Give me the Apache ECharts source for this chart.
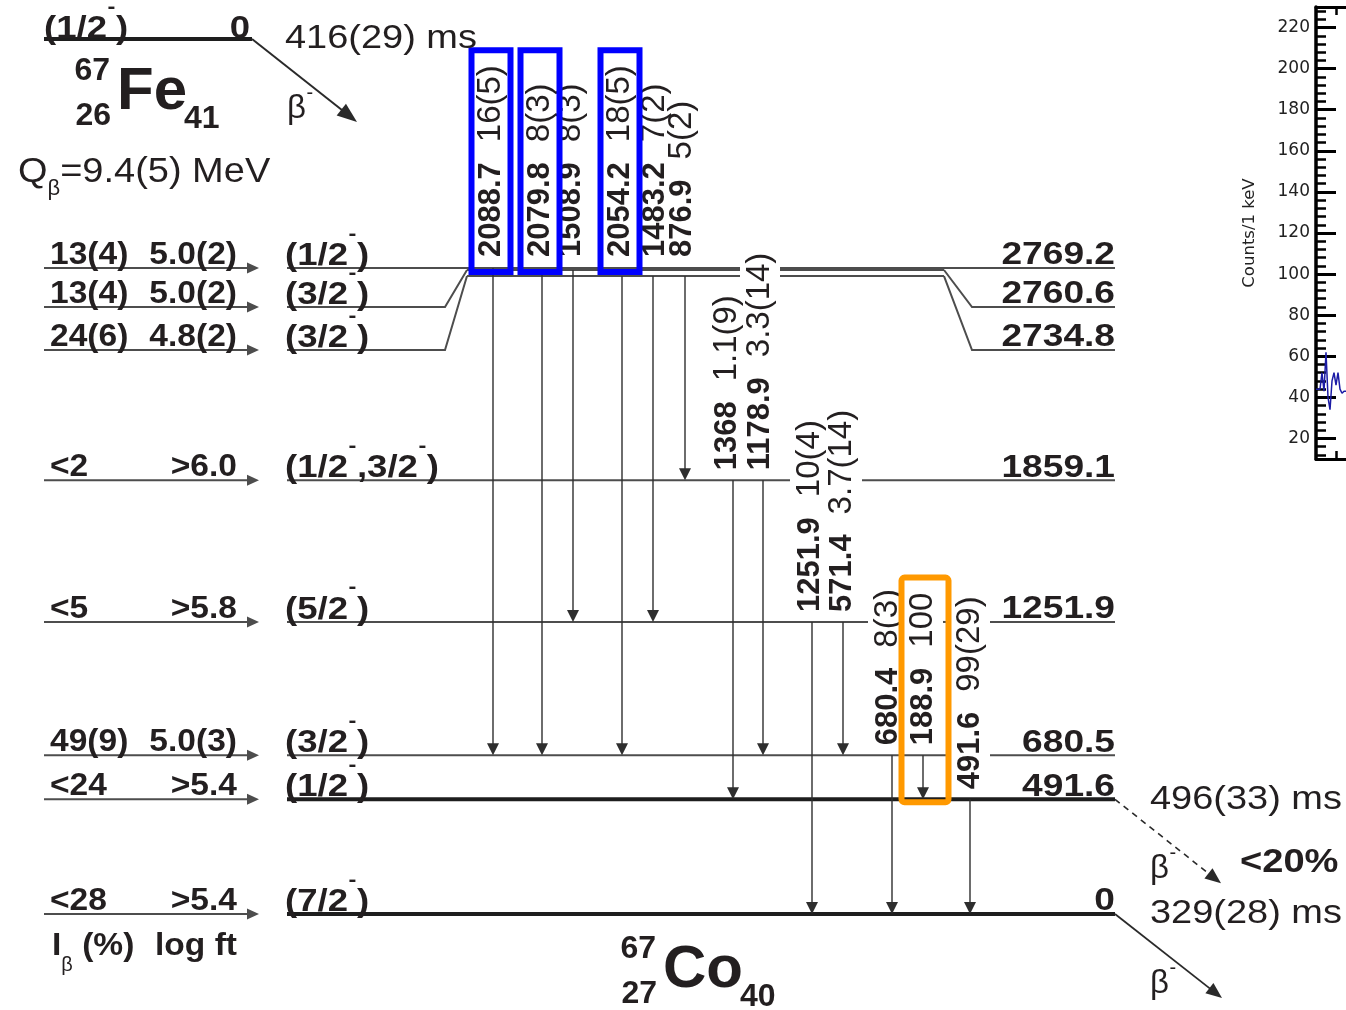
<!DOCTYPE html>
<html>
<head>
<meta charset="utf-8">
<script src="https://cdn.jsdelivr.net/npm/echarts@6/dist/echarts.min.js"></script>
<style>html,body{margin:0;padding:0;background:#fff}#c{width:1346px;height:1010px}</style>
</head>
<body>
<div id="c"></div>
<script>
// ---------------- DATA ----------------
const levelEnergies = [2769.2, 2760.6, 2734.8, 1859.1, 1251.9, 680.5, 491.6, 0];
const levelLabels   = ['2769.2', '2760.6', '2734.8', '1859.1', '1251.9', '680.5', '491.6', '0'];
const levelSpins    = ['(1/2⁻)', '(3/2⁻)', '(3/2⁻)', '(1/2⁻,3/2⁻)', '(5/2⁻)', '(3/2⁻)', '(1/2⁻)', '(7/2⁻)'];
const betaFeedings  = ['13(4)', '13(4)', '24(6)', '<2', '<5', '49(9)', '<24', '<28'];
const logFtValues   = ['5.0(2)', '5.0(2)', '4.8(2)', '>6.0', '>5.8', '5.0(3)', '>5.4', '>5.4'];

const gammaEnergies    = ['2088.7', '2079.8', '1508.9', '2054.2', '1483.2', '876.9', '1368', '1178.9', '1251.9', '571.4', '680.4', '188.9', '491.6'];
const gammaIntensities = ['16(5)', '8(3)', '8(3)', '18(5)', '7(2)', '5(2)', '1.1(9)', '3.3(14)', '10(4)', '3.7(14)', '8(3)', '100', '99(29)'];
const gammaFrom = [2769.2, 2760.6, 2760.6, 2734.8, 2734.8, 2734.8, 1859.1, 1859.1, 1251.9, 1251.9, 680.5, 680.5, 491.6];
const gammaTo   = [680.5, 680.5, 1251.9, 680.5, 1251.9, 1859.1, 491.6, 680.5, 0, 680.5, 0, 491.6, 0];

const highlightBlue   = ['2088.7', '2079.8', '2054.2'];
const highlightOrange = ['188.9'];

const parentSpin = '(1/2⁻)';
const parentLevel = '0';
const parentHalfLife = '416(29) ms';
const decayMode = 'β⁻';
const qValue = '9.4(5) MeV';
const parentNuclide = ['67', '26', 'Fe', '41'];     // A, Z, symbol, N
const daughterNuclide = ['67', '27', 'Co', '40'];
const isomerHalfLife = '496(33) ms';
const isomerBranch = '<20%';
const groundHalfLife = '329(28) ms';
const feedingHeader = ['I', 'β', ' (%)', 'log ft'];

// inset spectrum (counts per 1 keV bin)
const spectrumBinEdges = [170, 171, 172, 173, 174, 175, 176, 177, 178, 179, 180, 181, 182, 183, 184, 185];
const spectrumCounts   = [44, 44, 44, 52, 43, 62, 40, 34, 48, 52, 46, 52, 44, 42, 43];
const countTicks = [20, 40, 60, 80, 100, 120, 140, 160, 180, 200, 220];
const energyTicks = [180];

// ---------------- LAYOUT / STYLE ----------------
const L = {
  betaStart: 44, betaEnd: 259, ibX: 50, logftX: 237, spinX: 285,
  levelStart: 287, levelEnd: 1115, bendL0: 445, bendL1: 467, bendR0: 944, bendR1: 972
};
const levelDisplayShift = [0, 37, 74, 0, 0, 0, 0, 0];   // px shift of the side parts
const levelThick = [false, false, false, false, false, false, true, true];
const gammaX      = [493, 542, 573, 622, 653, 685, 733, 763, 812, 843, 892, 923, 970];
const gammaLabelX = [491, 540, 571, 620, 655, 682, 727, 760, 810, 842, 888, 923, 970];

const INK = '#231f20', LINE = '#4d4d4d', DARK = '#1e1e1e';
const FF = '"Liberation Sans", Arial, Helvetica, sans-serif';
const f = (s, b) => (b ? 'bold ' : '') + s + 'px ' + FF;
const F_SPIN = f(31, true), SX_SPIN = 1.18;
const F_LEFT = f(30.5, true), SX_LEFT = 1.1;
const F_EN = f(32, true), SX_EN = 1.16;
const F_HL = f(33, false), SX_HL = 1.15;
const F_GE = f(31, true), F_GI = f(33, false), GAP = 20;
const F_NS = f(32, true), F_NB = f(60, true);
const F_Q = f(35, false), SX_Q = 1.085;
const F_SUPB = f(20, true), F_SUPR = f(20, false), F_SUB = f(22, false);
const F_BETA = f(33, false);
const F_BR = f(34, true), SX_BR = 1.12;

const mctx = document.createElement('canvas').getContext('2d');
function tw(t, font) { mctx.font = font; return mctx.measureText(t).width; }

function textEl(x, y, text, font, align, sx, fill) {
  const a = align || 'left', c = fill || INK;
  return { type: 'text', x: x, y: y, scaleX: sx || 1, silent: true,
    style: { text: text, font: font, fill: c, textFill: c, align: a, textAlign: a,
             verticalAlign: 'middle', textVerticalAlign: 'middle' } };
}
function seg(x1, y1, x2, y2, w, color, dash) {
  return { type: 'line', silent: true, shape: { x1: x1, y1: y1, x2: x2, y2: y2 },
    style: { stroke: color, lineWidth: w, lineDash: dash || null, fill: 'none' } };
}
function poly(points, w, color) {
  return { type: 'polyline', silent: true, shape: { points: points },
    style: { stroke: color, lineWidth: w, fill: 'none' } };
}
function arrow(x1, y1, tx, ty, len, half, w, color, dash, out) {
  const dx = tx - x1, dy = ty - y1, D = Math.hypot(dx, dy), ux = dx / D, uy = dy / D;
  const bx = tx - ux * len, by = ty - uy * len;
  out.push(seg(x1, y1, bx + ux * 2, by + uy * 2, w, color, dash));
  out.push({ type: 'polygon', silent: true,
    shape: { points: [[tx, ty], [bx - uy * half, by + ux * half], [bx + uy * half, by - ux * half]] },
    style: { fill: color } });
}
function hGaps(x1, x2, y, gaps, w, color, out) {
  let cur = x1;
  gaps.filter(g => g[1] > x1 && g[0] < x2).sort((a, b) => a[0] - b[0]).forEach(g => {
    if (g[0] > cur) out.push(seg(cur, y, g[0], y, w, color));
    cur = Math.max(cur, g[1]);
  });
  if (cur < x2) out.push(seg(cur, y, x2, y, w, color));
}
// text with superscript minus (⁻)
function supText(x, y, s, font, sx, supFont, supDy, out) {
  const parts = s.split('⁻');
  let cx = x;
  parts.forEach((p, k) => {
    if (p) { out.push(textEl(cx, y, p, font, 'left', sx)); cx += tw(p, font) * sx; }
    if (k < parts.length - 1) {
      out.push(textEl(cx + 0.5, y + supDy, '-', supFont, 'left', sx));
      cx += tw('-', supFont) * sx + 1;
    }
  });
  return cx;
}
function nuclide(x, y, nuc, out) {
  // y = centre of the element symbol
  out.push(textEl(x + 38, y - 21, nuc[0], F_NS, 'right', 1));
  out.push(textEl(x + 39, y + 24, nuc[1], F_NS, 'right', 1));
  out.push(textEl(x + 45, y, nuc[2], F_NB, 'left', 1));
  out.push(textEl(x + 45 + tw(nuc[2], F_NB) - 3, y + 27, nuc[3], F_NS, 'left', 1));
}

function renderItem(params, api) {
  const X = v => api.coord([v, 0])[0];
  const Y = e => api.coord([0, e])[1];
  const out = [];
  const topLevelY = Y(levelEnergies[0]);

  // gamma label geometry
  const labels = gammaEnergies.map((g, i) => {
    const fy = Y(gammaFrom[i]);
    const bottom = gammaFrom[i] > 2700 ? topLevelY - 11 : fy - 10;
    const wE = tw(g, F_GE), wI = tw(gammaIntensities[i], F_GI);
    return { cx: X(gammaLabelX[i]), bottom: bottom, top: bottom - wE - GAP - wI, wE: wE };
  });
  function gapsFor(E, y) {
    const g = [];
    labels.forEach((lb, j) => {
      if (gammaFrom[j] !== E && y > lb.top && y < lb.bottom) g.push([lb.cx - 20, lb.cx + 20]);
    });
    return g;
  }

  // levels
  levelEnergies.forEach((E, i) => {
    const yT = Y(E), yD = yT + levelDisplayShift[i];
    const w = levelThick[i] ? 4 : 2, col = levelThick[i] ? DARK : LINE;
    const gaps = gapsFor(E, yT);
    if (levelDisplayShift[i] === 0) {
      hGaps(X(L.levelStart), X(L.levelEnd), yT, gaps, w, col, out);
    } else {
      out.push(poly([[X(L.levelStart), yD], [X(L.bendL0), yD], [X(L.bendL1), yT]], w, col));
      hGaps(X(L.bendL1), X(L.bendR0), yT, gaps, w, col, out);
      out.push(poly([[X(L.bendR0), yT], [X(L.bendR1), yD], [X(L.levelEnd), yD]], w, col));
    }
    arrow(X(L.betaStart), yD, X(L.betaEnd), yD, 12, 5.5, 2, LINE, null, out);
    out.push(textEl(X(L.ibX), yD - 12.5, betaFeedings[i], F_LEFT, 'left', SX_LEFT));
    out.push(textEl(X(L.logftX), yD - 12.5, logFtValues[i], F_LEFT, 'right', SX_LEFT));
    supText(X(L.spinX), yD - 12, levelSpins[i], F_SPIN, SX_SPIN, F_SUPB, -22, out);
    out.push(textEl(X(L.levelEnd), yD - 12.5, levelLabels[i], F_EN, 'right', SX_EN));
  });

  // gamma transitions
  gammaEnergies.forEach((g, i) => {
    const x = X(gammaX[i]), y1 = Y(gammaFrom[i]), y2 = Y(gammaTo[i]);
    arrow(x, y1, x, y2, 12, 6, 1.4, '#2e2e2e', null, out);
    const lb = labels[i];
    out.push({ type: 'group', x: lb.cx, y: lb.bottom, rotation: Math.PI / 2, children: [
      textEl(0, 0, g, F_GE, 'left', 1),
      textEl(lb.wE + GAP, 0, gammaIntensities[i], F_GI, 'left', 1)
    ] });
  });

  // highlight boxes
  const blueIdx = highlightBlue.map(g => gammaEnergies.indexOf(g));
  const blueTop = Math.min.apply(null, blueIdx.map(i => labels[i].top)) - 15;
  const blueBottom = topLevelY + 4;
  blueIdx.forEach(i => {
    const cx = labels[i].cx;
    out.push({ type: 'rect', silent: true, shape: { x: cx - 19.5, y: blueTop, width: 39, height: blueBottom - blueTop },
      style: { fill: 'none', stroke: '#0000ff', lineWidth: 6 } });
  });
  highlightOrange.map(g => gammaEnergies.indexOf(g)).forEach(i => {
    const cx = labels[i].cx + 2, top = labels[i].top - 15, bot = Y(gammaTo[i]) + 3;
    out.push({ type: 'rect', silent: true, shape: { x: cx - 23.5, y: top, width: 47, height: bot - top, r: 3 },
      style: { fill: 'none', stroke: '#ff9900', lineWidth: 6 } });
  });

  // parent level (annotation, not on the daughter energy scale)
  const PY = 39;
  out.push(seg(44, PY, 252, PY, 4, DARK));
  supText(44, PY - 10, parentSpin, F_SPIN, SX_SPIN, F_SUPB, -22, out);
  out.push(textEl(250, PY - 10, parentLevel, F_SPIN, 'right', SX_SPIN));
  arrow(252, PY, 357, PY + 83, 20, 7.5, 2, '#2a2a2a', null, out);
  out.push(textEl(285, PY, parentHalfLife, F_HL, 'left', SX_HL));
  supText(287, PY + 70, decayMode, F_BETA, 1, F_SUPR, -16, out);
  nuclide(72, PY + 53, parentNuclide, out);
  // Q value
  out.push(textEl(18, 172, 'Q', F_Q, 'left', SX_Q));
  const qx = 18 + tw('Q', F_Q) * SX_Q;
  out.push(textEl(qx, 189, 'β', F_SUB, 'left', 1));
  out.push(textEl(qx + tw('β', F_SUB), 172, '=' + qValue, F_Q, 'left', SX_Q));

  // feeding header
  const yG = Y(0);
  out.push(textEl(52, yG + 33, feedingHeader[0], F_LEFT, 'left', SX_LEFT));
  const ix = 52 + tw('I', F_LEFT) * SX_LEFT;
  out.push(textEl(ix, yG + 51, feedingHeader[1], F_SUPR, 'left', 1));
  out.push(textEl(ix + tw('β', F_SUPR), yG + 33, feedingHeader[2], F_LEFT, 'left', SX_LEFT));
  out.push(textEl(155, yG + 33, feedingHeader[3], F_LEFT, 'left', SX_LEFT));

  // daughter decays
  const yI = Y(491.6);
  arrow(X(L.levelEnd), yI, X(L.levelEnd) + 106, yI + 84, 16, 6.5, 1.6, '#2a2a2a', [6, 5], out);
  out.push(textEl(1150, yI + 1, isomerHalfLife, F_HL, 'left', SX_HL));
  supText(1150, yI + 70, decayMode, F_BETA, 1, F_SUPR, -16, out);
  out.push(textEl(1240, yI + 63, isomerBranch, F_BR, 'left', SX_BR));
  out.push(textEl(1150, yG, groundHalfLife, F_HL, 'left', SX_HL));
  arrow(X(L.levelEnd), yG, X(L.levelEnd) + 107, yG + 84, 16, 6.5, 1.8, '#2a2a2a', null, out);
  supText(1150, yG + 70, decayMode, F_BETA, 1, F_SUPR, -16, out);
  nuclide(618, yG + 56, daughterNuclide, out);

  return { type: 'group', children: out };
}

const minorTicks = [];
for (let v = 12; v <= 228; v += 4) if (v % 20 !== 0) minorTicks.push(v);

const chart = echarts.init(document.getElementById('c'), null, { renderer: 'canvas' });
const insetAxisX = pos => ({
  gridIndex: 1, type: 'value', min: 170, max: 185, position: pos,
  axisLine: { show: true, onZero: false, lineStyle: { color: '#000', width: 3 } },
  axisTick: { show: true, inside: true, length: 8, customValues: energyTicks, lineStyle: { color: '#000', width: 2.5 } },
  axisLabel: { show: false }, splitLine: { show: false }
});
chart.setOption({
  backgroundColor: '#fff',
  animation: false,
  grid: [
    { left: 0, right: 0, top: 0, bottom: 0, outerBoundsMode: 'none' },
    { left: 1316, right: 0, top: 7, bottom: 551, outerBoundsMode: 'none' }
  ],
  xAxis: [
    { gridIndex: 0, type: 'value', min: 0, max: 1346, show: false },
    insetAxisX('bottom'),
    insetAxisX('top')
  ],
  yAxis: [
    { gridIndex: 0, type: 'value', min: -411.52, max: 3918.04, show: false },
    { gridIndex: 1, type: 'value', min: 10, max: 230, position: 'left',
      name: 'Counts/1 keV', nameLocation: 'middle', nameGap: 58, nameRotate: 90,
      nameTextStyle: { fontFamily: 'DejaVu Sans', fontSize: 16.5, color: '#222' },
      axisLine: { show: true, onZero: false, lineStyle: { color: '#000', width: 3.5 } },
      axisTick: { show: true, inside: true, length: 20, customValues: countTicks, lineStyle: { color: '#000', width: 3 } },
      axisLabel: { show: true, customValues: countTicks, margin: 6, fontFamily: 'DejaVu Sans', fontSize: 17, color: '#222' },
      splitLine: { show: false } },
    { gridIndex: 1, type: 'value', min: 10, max: 230, position: 'left',
      axisLine: { show: false },
      axisTick: { show: true, inside: true, length: 10, customValues: minorTicks, lineStyle: { color: '#000', width: 2.5 } },
      axisLabel: { show: false }, splitLine: { show: false } }
  ],
  series: [
    { type: 'custom', coordinateSystem: 'cartesian2d', xAxisIndex: 0, yAxisIndex: 0,
      data: [[0, 0]], renderItem: renderItem, silent: true, clip: false },
    { type: 'line', xAxisIndex: 1, yAxisIndex: 1, step: 'end', symbol: 'none', silent: true,
      data: spectrumBinEdges.map((e, i) => [e, spectrumCounts[Math.min(i, spectrumCounts.length - 1)]]),
      lineStyle: { color: '#1c1ca6', width: 1.5 } }
  ]
});
</script>
</body>
</html>
